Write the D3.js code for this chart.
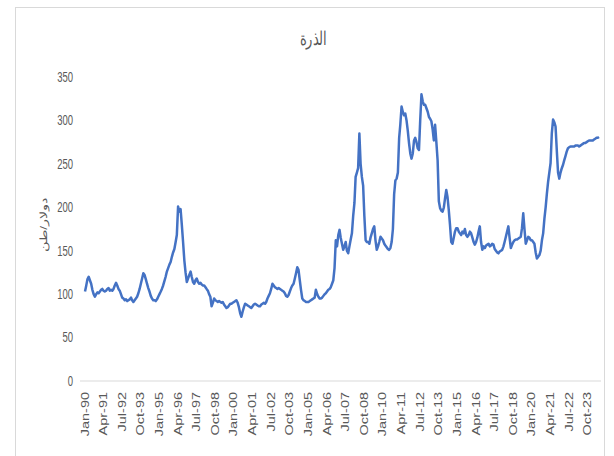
<!DOCTYPE html>
<html>
<head>
<meta charset="utf-8">
<script src="https://cdn.jsdelivr.net/npm/d3@7"></script>
<style>
  body { margin: 0; background: #fff; }
  text { font-family: "Liberation Sans", Arial, sans-serif; }
</style>
</head>
<body>
<script>
// Monthly corn price (USD/ton), starting Jan-90
const startLabel = "Jan-90";
const prices = [
  103, 110, 117, 120, 116, 112, 105, 100, 97, 100, 102, 101,   // 1990
  103, 105, 106, 104, 103, 104, 106, 107, 104, 105, 104, 106,  // 1991
  110, 113, 110, 106, 104, 100, 96, 95, 93, 94, 92, 93,        // 1992
  94, 96, 93, 91, 93, 95, 97, 101, 106, 112, 118, 124,         // 1993
  122, 117, 112, 107, 103, 98, 95, 93, 93, 92, 94, 97,         // 1994
  100, 103, 106, 110, 115, 120, 126, 130, 134, 137, 143, 148,  // 1995
  152, 160, 168, 201, 195, 198, 180, 160, 139, 125, 114, 118,  // 1996
  122, 126, 120, 114, 112, 116, 118, 114, 112, 113, 111, 110,  // 1997
  110, 108, 106, 104, 100, 97, 86, 90, 95, 93, 92, 91,         // 1998
  92, 91, 90, 91, 88, 86, 84, 85, 87, 89, 89, 90,              // 1999
  91, 92, 93, 90, 85, 78, 74, 80, 85, 89, 88, 87,              // 2000
  86, 85, 84, 86, 88, 89, 88, 87, 86, 86, 88, 89,              // 2001
  90, 89, 91, 95, 98, 101, 106, 112, 110, 108, 107, 106,       // 2002
  107, 106, 105, 104, 103, 101, 98, 97, 99, 103, 107, 110,     // 2003
  112, 118, 124, 131, 128, 116, 105, 95, 93, 92, 91, 91,       // 2004
  91, 92, 93, 94, 95, 96, 105, 100, 97, 95, 95, 96,            // 2005
  98, 100, 101, 103, 105, 106, 108, 112, 116, 130, 162, 155,   // 2006
  168, 174, 165, 158, 151, 155, 160, 150, 147, 155, 163, 170,  // 2007
  190, 205, 235, 240, 245, 285, 250, 235, 225, 190, 162, 160,  // 2008
  160, 158, 165, 170, 175, 178, 162, 151, 155, 160, 166, 164,  // 2009
  162, 158, 156, 154, 152, 151, 153, 160, 175, 215, 231, 233,  // 2010
  240, 280, 295, 316, 310, 306, 308, 300, 288, 274, 262, 256,  // 2011
  262, 277, 280, 275, 268, 266, 300, 330, 322, 318, 318, 314,  // 2012
  310, 304, 302, 299, 290, 277, 295, 275, 254, 207, 199, 196,  // 2013
  195, 200, 210, 220, 212, 197, 180, 160, 158, 165, 172, 176,  // 2014
  176, 172, 170, 168, 172, 170, 175, 168, 166, 168, 172, 170,  // 2015
  165, 160, 157, 160, 165, 172, 178, 160, 151, 155, 153, 156,  // 2016
  157, 158, 155, 156, 158, 157, 152, 150, 148, 147, 149, 150,  // 2017
  151, 155, 160, 166, 172, 178, 165, 153, 157, 160, 162, 163,  // 2018
  163, 164, 165, 166, 176, 193, 175, 158, 162, 166, 165, 162,  // 2019
  162, 160, 158, 148, 141, 143, 145, 150, 162, 170, 187, 200,  // 2020
  216, 230, 240, 251, 285, 301, 298, 293, 265, 240, 233, 240,  // 2021
  245, 249, 254, 259, 264, 268, 269, 270, 270, 270, 270, 271,  // 2022
  271, 271, 270, 271, 272, 273, 274, 274, 275, 276, 277, 277,  // 2023
  277, 277, 278, 279, 280, 280, 281                            // 2024
];

const xTickLabels = ["Jan-90", "Apr-91", "Jul-92", "Oct-93", "Jan-95", "Apr-96", "Jul-97",
  "Oct-98", "Jan-00", "Apr-01", "Jul-02", "Oct-03", "Jan-05", "Apr-06", "Jul-07", "Oct-08",
  "Jan-10", "Apr-11", "Jul-12", "Oct-13", "Jan-15", "Apr-16", "Jul-17", "Oct-18", "Jan-20",
  "Apr-21", "Jul-22", "Oct-23"];
const yTicks = [0, 50, 100, 150, 200, 250, 300, 350];

const title = "الذرة";
const yTitle = "دولار/طن";

const width = 614, height = 456;
const stretch = 1.45; // the reference is squeezed horizontally

const parse = d3.utcParse("%b-%y");
const start = parse(startLabel);
const data = prices.map((v, i) => ({ date: d3.utcMonth.offset(start, i), value: v }));

const svg = d3.select("body").append("svg")
    .attr("width", width)
    .attr("height", height);

// chart frame
svg.append("rect")
    .attr("x", 15.5).attr("y", 7.5)
    .attr("width", 589).attr("height", 470)
    .attr("fill", "#fff")
    .attr("stroke", "#d9d9d9");

const x = d3.scaleUtc()
    .domain(d3.extent(data, d => d.date))
    .range([85, 599]);

const y = d3.scaleLinear()
    .domain([0, 350])
    .range([381, 77]);

// title
svg.append("text")
    .attr("transform", `translate(313,45) scale(1,${stretch})`)
    .attr("text-anchor", "middle")
    .attr("font-size", 13)
    .attr("fill", "#595959")
    .text(title);

// y axis title
svg.append("text")
    .attr("transform", `translate(47,225) rotate(-90) scale(${stretch},1)`)
    .attr("text-anchor", "middle")
    .attr("font-size", 9.5)
    .attr("fill", "#595959")
    .text(yTitle);

// y tick labels
svg.append("g")
  .selectAll("text")
  .data(yTicks)
  .join("text")
    .attr("transform", d => `translate(73,${y(d)}) scale(1,${stretch})`)
    .attr("text-anchor", "end")
    .attr("dy", "0.35em")
    .attr("font-size", 9.5)
    .attr("fill", "#595959")
    .text(d => d);

// x axis baseline
svg.append("line")
    .attr("x1", 80).attr("x2", 601)
    .attr("y1", y(0)).attr("y2", y(0))
    .attr("stroke", "#d9d9d9")
    .attr("stroke-width", 1);

// x tick labels
svg.append("g")
  .selectAll("text")
  .data(xTickLabels)
  .join("text")
    .attr("transform", d => `translate(${x(parse(d))},392) rotate(-90) scale(${stretch},1)`)
    .attr("text-anchor", "end")
    .attr("dy", "0.35em")
    .attr("font-size", 10)
    .attr("fill", "#595959")
    .text(d => d);

// price line
const line = d3.line()
    .x(d => x(d.date))
    .y(d => y(d.value));

svg.append("path")
    .datum(data)
    .attr("fill", "none")
    .attr("stroke", "#4472c4")
    .attr("stroke-width", 2.5)
    .attr("stroke-linejoin", "round")
    .attr("d", line);
</script>
</body>
</html>
